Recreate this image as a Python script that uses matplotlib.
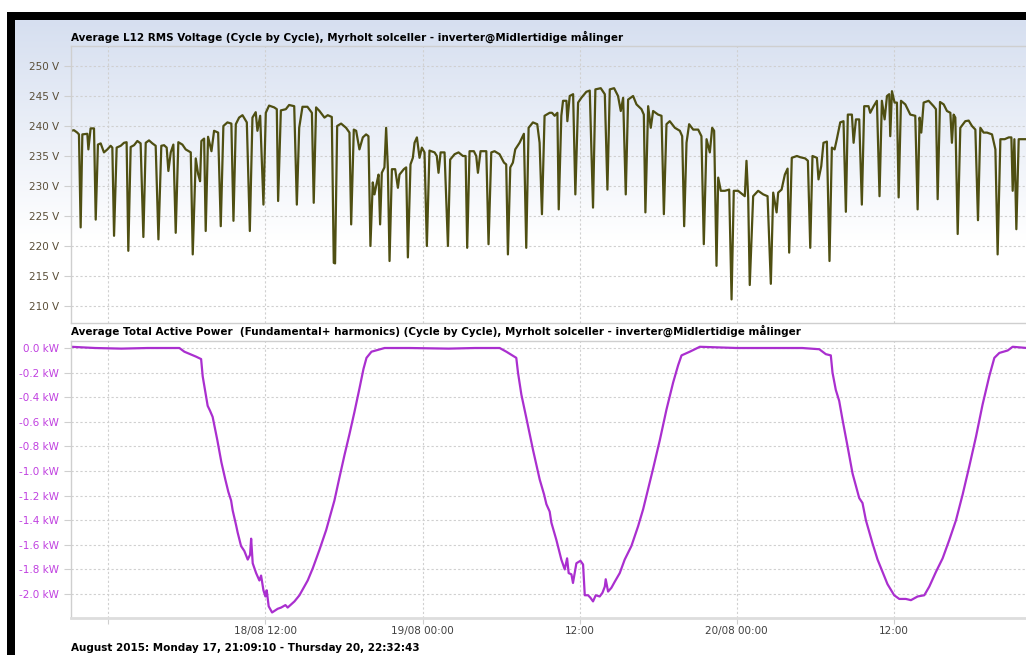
from datetime import datetime, timedelta

import numpy as np
import matplotlib
matplotlib.use('Agg')
import matplotlib.pyplot as plt
from matplotlib.colors import LinearSegmentedColormap
from matplotlib.patches import Rectangle

# time is in hours counted from 2015-08-17 00:00
day0 = datetime(2015, 8, 17)
t_start = 21 + 9/60 + 10/3600      # 17/08 21:09:10
t_end = 94 + 32/60 + 43/3600       # 20/08 22:32:43

voltage_t = [
    21.15, 21.38, 21.63, 21.76, 21.89, 22.02, 22.40, 22.48, 22.65, 22.91,
    23.04, 23.21, 23.42, 23.67, 23.93, 24.18, 24.31, 24.44, 24.64, 24.95,
    25.20, 25.40, 25.53, 25.71, 25.97, 26.22, 26.47, 26.68, 26.86, 27.11,
    27.37, 27.62, 27.83, 28.05, 28.26, 28.46, 28.59, 28.77, 28.97, 29.15,
    29.35, 29.66, 29.91, 30.30, 30.45, 30.68, 30.86, 31.01, 31.11, 31.32,
    31.44, 31.62, 31.88, 32.08, 32.39, 32.59, 32.79, 33.10, 33.40, 33.56,
    33.74, 33.99, 34.25, 34.58, 34.81, 35.01, 35.26, 35.39, 35.60, 35.85,
    36.03, 36.28, 36.67, 36.87, 36.97, 37.18, 37.56, 37.81, 38.20, 38.40,
    38.58, 38.83, 39.21, 39.55, 39.69, 39.87, 40.13, 40.51, 40.76, 41.07,
    41.22, 41.32, 41.48, 41.78, 42.16, 42.42, 42.55, 42.75, 42.93, 43.18,
    43.44, 43.69, 43.87, 44.02, 44.20, 44.33, 44.53, 44.64, 44.76, 44.89,
    45.09, 45.22, 45.35, 45.48, 45.66, 45.91, 46.12, 46.24, 46.57, 46.75,
    46.88, 47.08, 47.26, 47.39, 47.57, 47.77, 47.95, 48.15, 48.33, 48.53,
    48.92, 49.09, 49.22, 49.38, 49.68, 49.94, 50.11, 50.45, 50.75, 51.08,
    51.29, 51.41, 51.59, 51.92, 52.10, 52.23, 52.43, 52.87, 53.04, 53.25,
    53.50, 53.88, 54.22, 54.39, 54.52, 54.70, 54.90, 55.08, 55.41, 55.74,
    55.92, 56.10, 56.43, 56.76, 56.94, 57.12, 57.32, 57.71, 57.89, 58.09,
    58.30, 58.40, 58.60, 58.73, 58.99, 59.06, 59.24, 59.50, 59.67, 59.88,
    60.13, 60.51, 60.77, 61.02, 61.20, 61.61, 61.92, 62.12, 62.30, 62.63,
    62.93, 63.14, 63.32, 63.52, 63.70, 64.08, 64.34, 64.72, 64.90, 65.02,
    65.23, 65.43, 65.61, 65.99, 66.25, 66.43, 66.63, 66.88, 67.27, 67.65,
    67.83, 67.98, 68.16, 68.36, 68.67, 69.05, 69.30, 69.48, 69.69, 69.94,
    70.12, 70.27, 70.45, 70.58, 70.78, 71.09, 71.42, 71.60, 71.77, 72.10,
    72.61, 72.74, 72.87, 72.99, 73.25, 73.63, 74.02, 74.35, 74.60, 74.78,
    75.04, 75.16, 75.42, 75.67, 75.88, 76.00, 76.20, 76.59, 76.84, 77.22,
    77.43, 77.61, 77.78, 78.12, 78.24, 78.45, 78.62, 78.88, 79.08, 79.26,
    79.47, 79.64, 79.90, 80.15, 80.33, 80.48, 80.79, 80.92, 81.10, 81.35,
    81.55, 81.73, 82.06, 82.19, 82.45, 82.70, 82.90, 83.08, 83.29, 83.47,
    83.64, 83.72, 83.85, 84.05, 84.23, 84.36, 84.54, 84.87, 85.25, 85.63,
    85.81, 85.96, 86.09, 86.27, 86.65, 87.03, 87.21, 87.34, 87.52, 87.80,
    88.05, 88.31, 88.43, 88.56, 88.69, 88.87, 89.07, 89.45, 89.71, 89.96,
    90.22, 90.42, 90.60, 90.85, 91.11, 91.49, 91.75, 91.92, 92.13, 92.46,
    92.77, 92.97, 93.07, 93.20, 93.35, 93.53, 94.09, 94.55,
]
voltage_v = [
    239.2, 239.3, 238.9, 238.6, 223.1, 238.6, 238.7, 236.1, 239.6, 239.6,
    224.4, 236.9, 237.1, 235.6, 236.1, 236.7, 236.4, 221.7, 236.4, 236.7,
    237.2, 237.3, 219.2, 236.5, 236.8, 237.5, 237.1, 221.5, 237.2, 237.6,
    237.1, 236.7, 221.1, 236.7, 236.8, 236.4, 232.5, 235.6, 236.9, 222.2,
    237.3, 236.9, 236.1, 235.6, 218.6, 234.6, 232.0, 230.8, 237.5, 237.9,
    222.5, 238.2, 235.8, 239.2, 238.9, 223.3, 240.0, 240.6, 240.4, 224.2,
    240.3, 241.4, 241.8, 240.6, 222.5, 241.4, 242.3, 239.2, 241.7, 226.9,
    242.2, 243.4, 243.1, 242.8, 227.5, 242.6, 242.8, 243.5, 243.3, 226.9,
    239.7, 243.2, 243.2, 242.2, 227.2, 243.1, 242.5, 241.4, 241.8, 241.5,
    217.2, 217.1, 240.0, 240.4, 239.7, 238.9, 223.6, 239.4, 239.2, 236.1,
    238.1, 238.6, 238.3, 220.0, 230.6, 228.6, 230.8, 231.9, 223.6, 232.2,
    233.1, 239.7, 233.1, 217.5, 232.8, 232.8, 229.7, 231.9, 232.8, 233.1,
    218.1, 233.6, 234.7, 237.2, 238.1, 234.7, 236.4, 235.6, 220.0, 235.9,
    235.6, 235.0, 232.2, 235.6, 235.6, 220.0, 234.4, 235.3, 235.6, 235.0,
    235.0, 219.7, 235.8, 235.8, 235.0, 232.2, 235.8, 235.8, 220.3, 235.6,
    235.8, 235.3, 233.9, 233.6, 218.6, 233.1, 233.9, 236.1, 237.2, 238.7,
    219.7, 239.7, 240.6, 240.3, 237.2, 225.3, 241.7, 242.2, 242.2, 241.7,
    242.2, 226.1, 241.7, 244.2, 244.2, 240.8, 245.0, 245.3, 228.6, 243.9,
    244.7, 245.7, 245.9, 226.4, 246.1, 246.3, 245.3, 229.4, 246.1, 246.3,
    245.0, 242.5, 244.7, 228.6, 244.4, 245.0, 243.6, 242.8, 241.9, 225.6,
    243.3, 239.7, 242.5, 241.9, 241.7, 225.3, 240.3, 240.8, 239.7, 239.2,
    238.3, 223.3, 237.2, 240.3, 239.4, 239.4, 238.3, 220.3, 237.8, 235.6,
    239.7, 239.2, 216.7, 231.4, 229.2, 229.2, 229.4, 211.1, 229.2, 229.2,
    228.3, 234.2, 228.1, 213.5, 228.3, 229.2, 228.6, 228.3, 213.7, 228.9,
    225.6, 228.9, 229.4, 231.9, 232.9, 218.9, 234.7, 235.0, 234.8, 234.6,
    234.2, 219.7, 235.0, 234.7, 231.1, 233.3, 237.2, 237.4, 217.5, 236.4,
    236.1, 237.8, 240.6, 240.8, 225.7, 241.9, 241.9, 237.2, 241.1, 241.1,
    226.9, 243.3, 243.3, 242.2, 243.3, 244.2, 228.3, 244.2, 241.1, 245.0,
    245.3, 238.3, 245.8, 243.9, 243.9, 228.1, 244.2, 243.6, 241.9, 241.7,
    226.1, 241.4, 238.9, 243.9, 244.2, 243.3, 242.8, 227.8, 244.0, 243.6,
    242.5, 242.2, 237.2, 241.9, 241.4, 222.0, 239.7, 240.8, 240.9, 240.0,
    239.4, 224.3, 239.7, 238.9, 238.9, 238.6, 236.1, 218.6, 237.8, 237.8,
    238.1, 238.1, 229.2, 237.8, 222.8, 237.8, 237.8, 237.8,
]

power_t = [
    21.15, 23.00, 25.00, 27.00, 29.43, 29.81, 30.70, 31.09, 31.21, 31.59,
    31.77, 31.97, 32.33, 32.64, 32.94, 33.17, 33.38, 33.50, 33.76, 33.88,
    34.14, 34.39, 34.65, 34.83, 34.91, 35.03, 35.29, 35.54, 35.67, 35.85,
    36.00, 36.10, 36.25, 36.51, 36.94, 37.20, 37.53, 37.70, 38.22, 38.60,
    39.23, 39.62, 40.13, 40.64, 41.27, 41.66, 42.04, 42.42, 42.80, 43.18,
    43.49, 43.72, 44.10, 45.10, 47.00, 50.00, 52.00,
    53.89, 54.40, 55.16, 55.29, 55.55, 55.93, 56.44, 56.95, 57.28, 57.46,
    57.71, 57.84, 58.22, 58.60, 58.86, 59.04, 59.16, 59.37, 59.49, 59.75,
    60.06, 60.26, 60.39, 60.64, 60.82, 61.02, 61.23, 61.53, 61.74, 61.92,
    61.99, 62.17, 62.42, 62.68, 63.06, 63.44, 63.95, 64.46, 64.85, 65.15,
    65.61, 66.12, 66.63, 67.14, 67.52, 67.78, 68.41, 69.18, 72.00, 75.00,
    77.00, 78.30,
    78.80, 79.18, 79.31, 79.56, 79.82, 80.07, 80.46, 80.84, 81.35, 81.60,
    81.86, 82.37, 82.75, 83.13, 83.51, 84.02, 84.41, 84.91, 85.30, 85.81,
    86.32, 86.70, 87.21, 87.72, 88.23, 88.74, 89.25, 89.76, 90.27, 90.77,
    91.28, 91.67, 92.05, 92.69, 93.07, 94.09, 94.55,
]
power_kw = [
    0.01, 0.0, -0.005, 0.0, 0.0, -0.03, -0.07, -0.09, -0.23, -0.47,
    -0.51, -0.56, -0.75, -0.93, -1.07, -1.17, -1.24, -1.32, -1.44, -1.50,
    -1.61, -1.65, -1.72, -1.68, -1.55, -1.75, -1.83, -1.89, -1.85, -1.97,
    -2.02, -1.97, -2.10, -2.15, -2.12, -2.11, -2.09, -2.11, -2.06, -2.01,
    -1.89, -1.79, -1.64, -1.48, -1.24, -1.05, -0.87, -0.70, -0.52, -0.33,
    -0.17, -0.08, -0.03, 0.0, 0.0, -0.005, 0.0,
    0.0, -0.03, -0.08, -0.20, -0.38, -0.57, -0.83, -1.07, -1.19, -1.27,
    -1.33, -1.42, -1.56, -1.72, -1.80, -1.71, -1.83, -1.84, -1.91, -1.75,
    -1.73, -1.76, -2.01, -2.01, -2.03, -2.06, -2.01, -2.02, -1.99, -1.94,
    -1.88, -1.98, -1.95, -1.90, -1.83, -1.72, -1.61, -1.45, -1.31, -1.18,
    -0.98, -0.75, -0.50, -0.28, -0.14, -0.06, -0.03, 0.01, 0.0, 0.0,
    0.0, -0.01,
    -0.05, -0.06, -0.20, -0.34, -0.43, -0.58, -0.80, -1.02, -1.22, -1.26,
    -1.40, -1.59, -1.72, -1.82, -1.92, -2.01, -2.04, -2.04, -2.05, -2.02,
    -2.01, -1.94, -1.82, -1.71, -1.56, -1.40, -1.19, -0.96, -0.72, -0.46,
    -0.23, -0.08, -0.04, -0.02, 0.01, 0.0, 0.0,
]

volt_ticks = [210, 215, 220, 225, 230, 235, 240, 245, 250]
power_ticks = [0.0, -0.2, -0.4, -0.6, -0.8, -1.0, -1.2, -1.4, -1.6, -1.8, -2.0]
x_tick_hours = [24, 36, 48, 60, 72, 84]
x_tick_labels = ['', '18/08 12:00', '19/08 00:00', '12:00', '20/08 00:00', '12:00']

title_v = 'Average L12 RMS Voltage (Cycle by Cycle), Myrholt solceller - inverter@Midlertidige målinger'
title_p = ('Average Total Active Power  (Fundamental+ harmonics) (Cycle by Cycle), '
           'Myrholt solceller - inverter@Midlertidige målinger')
footer = 'August 2015: Monday 17, 21:09:10 - Thursday 20, 22:32:43'


def to_dates(hours):
    return [day0 + timedelta(hours=h) for h in hours]


W, H = 1026, 655
fig = plt.figure(figsize=(W/100, H/100), dpi=100, facecolor='white')


def px_box(left, top, right, bottom):
    return [left/W, 1 - bottom/H, (right - left)/W, (bottom - top)/H]


# light blue gradient behind the top panel
bg = fig.add_axes(px_box(15, 20, W, 240))
grad = np.linspace(0, 1, 256).reshape(-1, 1)
cmap = LinearSegmentedColormap.from_list('bg', ['#d6dff0', '#ffffff'])
bg.imshow(grad, aspect='auto', cmap=cmap, extent=[0, 1, 0, 1], origin='upper')
bg.set_axis_off()

# black frame on top and left
fig.patches.append(Rectangle((7/W, 1 - 20/H), 1, 8/H, transform=fig.transFigure,
                             facecolor='black', edgecolor='none'))
fig.patches.append(Rectangle((7/W, 0), 8/W, 1 - 12/H, transform=fig.transFigure,
                             facecolor='black', edgecolor='none'))

ax1 = fig.add_axes(px_box(71, 46, 1032, 323))
ax2 = fig.add_axes(px_box(71, 341, 1032, 618))
ax1.set_facecolor('none')
ax2.set_facecolor('white')

ax1.plot(to_dates(voltage_t), voltage_v, color='#4f4f12', lw=1.6)
ax2.plot(to_dates(power_t), power_kw, color='#aa2fcf', lw=1.6)

ax1.set_ylim(207.17, 253.33)
ax2.set_ylim(-2.195, 0.057)

for ax in (ax1, ax2):
    ax.set_xlim(day0 + timedelta(hours=t_start), day0 + timedelta(hours=t_end))
    ax.set_xticks(to_dates(x_tick_hours))
    ax.grid(True, color='#d0d0d0', linestyle=(0, (2, 2)), linewidth=0.8)
    ax.set_axisbelow(True)
    for s in ax.spines.values():
        s.set_color('#cfcfcf')
        s.set_linewidth(1.0)
    ax.tick_params(axis='both', color='#cfcfcf', length=5, width=0.8, labelsize=7.5)

ax1.set_yticks(volt_ticks)
ax1.set_yticklabels(['%d V' % v for v in volt_ticks], color='#5a4e38')
ax1.tick_params(axis='x', labelbottom=False, length=0)

ax2.set_yticks(power_ticks)
ax2.set_yticklabels(['%.1f kW' % v for v in power_ticks], color='#c040e0')
ax2.set_xticklabels(x_tick_labels, color='#404040')
ax2.tick_params(axis='x', length=4, pad=2)
ax2.spines['bottom'].set_color('#dddddd')
ax2.spines['bottom'].set_linewidth(2)

fig.text(71/W, 1 - 37/H, title_v, fontsize=7.5, fontweight='bold', va='center', ha='left')
fig.text(71/W, 1 - 331/H, title_p, fontsize=7.5, fontweight='bold', va='center', ha='left')
fig.text(71/W, 1 - 648/H, footer, fontsize=7.5, fontweight='bold', va='center', ha='left')

fig.savefig('out.png', dpi=100, facecolor='white')
